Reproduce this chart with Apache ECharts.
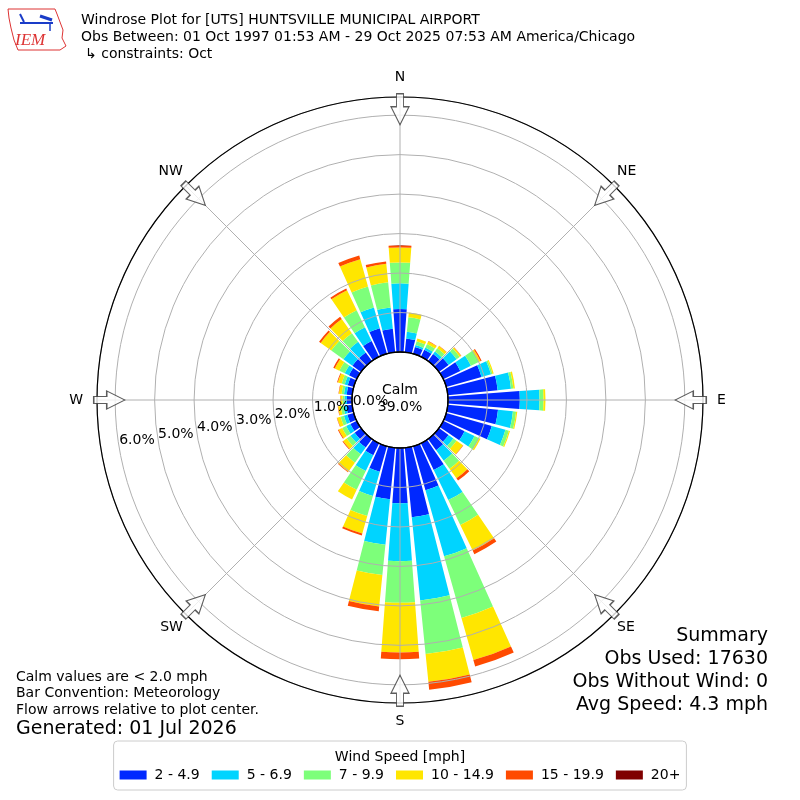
<!DOCTYPE html>
<html>
<head>
<meta charset="utf-8">
<script src="https://cdn.jsdelivr.net/npm/echarts@6/dist/echarts.min.js"></script>
<style>
  html, body { margin: 0; padding: 0; background: #fff; }
  #main { width: 800px; height: 800px; }
</style>
</head>
<body>
<div id="main"></div>
<script>
// direction bins, 10 degrees each, clockwise from north
var directions = [];
for (var d = 0; d < 360; d += 10) directions.push(d);

var speedBins = ['2 - 4.9', '5 - 6.9', '7 - 9.9', '10 - 14.9', '15 - 19.9', '20+'];
var binColors = ['#0028ff', '#00d4ff', '#7dff7a', '#ffe600', '#ff4a00', '#7f0000'];

// percent of obs per direction (0,10,...,350) for each speed bin
var pct2to5 = [1.09, 0.35, 0.18, 0.20, 0.22, 0.30, 0.48, 0.93, 1.27, 1.82, 1.28, 1.20,
               0.60, 0.30, 0.35, 0.75, 1.16, 1.77, 1.40, 1.31, 0.67, 0.34, 0.27, 0.20,
               0.18, 0.17, 0.15, 0.13, 0.14, 0.16, 0.22, 0.27, 0.27, 0.44, 0.67, 0.60];
var pct5to7 = [0.65, 0.17, 0.05, 0.06, 0.08, 0.25, 0.30, 0.25, 0.34, 0.50, 0.38, 0.36,
               0.28, 0.15, 0.33, 0.85, 1.74, 2.12, 1.47, 1.16, 0.64, 0.44, 0.21, 0.13,
               0.12, 0.09, 0.07, 0.06, 0.07, 0.08, 0.12, 0.28, 0.33, 0.39, 0.55, 0.54];
var pct7to10 = [0.53, 0.37, 0.10, 0.10, 0.10, 0.10, 0.22, 0.04, 0.06, 0.10, 0.08, 0.09,
                0.13, 0.10, 0.25, 0.70, 1.62, 1.36, 1.05, 0.77, 0.53, 0.53, 0.26, 0.12,
                0.11, 0.09, 0.07, 0.05, 0.06, 0.08, 0.15, 0.38, 0.27, 0.48, 0.55, 0.64];
var pct10to15 = [0.38, 0.12, 0.07, 0.07, 0.07, 0.04, 0.05, 0.03, 0.04, 0.05, 0.03, 0.03,
                 0.04, 0.20, 0.30, 0.72, 1.11, 0.71, 1.26, 0.80, 0.46, 0.27, 0.28, 0.11,
                 0.10, 0.09, 0.07, 0.05, 0.07, 0.10, 0.13, 0.33, 0.44, 0.56, 0.72, 0.47];
var pct15to20 = [0.05, 0, 0, 0.01, 0.01, 0.01, 0.03, 0, 0, 0, 0, 0,
                 0, 0.01, 0.07, 0.10, 0.17, 0.20, 0.17, 0.12, 0.05, 0, 0.02, 0.02,
                 0.02, 0.01, 0.01, 0.01, 0.01, 0.02, 0.04, 0.05, 0.07, 0.05, 0.10, 0.06];
var pct20plus = [0, 0, 0, 0, 0, 0, 0, 0, 0, 0, 0, 0,
                 0, 0, 0, 0, 0, 0, 0, 0, 0, 0, 0, 0,
                 0, 0, 0, 0, 0, 0, 0, 0, 0, 0, 0, 0];

var compassAngles = [0, 45, 90, 135, 180, 225, 270, 315];
var compassNames = ['N', 'NE', 'E', 'SE', 'S', 'SW', 'W', 'NW'];
var radiusTicks = [0, 1, 2, 3, 4, 5, 6];

var calmPct = 39.0;
var obsUsed = 17630;
var obsNoWind = 0;
var avgSpeed = 4.3;

var rMax = 6.46;
var arrowR = 6.15;
var font = 'DejaVu Sans';

// nudge compass labels so they sit on one circle
var compassPad = {
    N: [0, 0, 9, 0], NE: [0, 0, 5, 0], E: [0, 0, 0, 10], SE: [3, 0, 0, 0],
    S: [7, 0, 0, 0], SW: [3, 0, 0, 0], W: [0, 10, 0, 0], NW: [0, 0, 5, 0]
};
var compassRich = {};
compassNames.forEach(function (n) {
    compassRich[n] = { fontSize: 14, color: '#000', fontFamily: font, padding: compassPad[n] };
});

var myChart = echarts.init(document.getElementById('main'));

var allBins = [pct2to5, pct5to7, pct7to10, pct10to15, pct15to20, pct20plus];
var series = allBins.map(function (arr, i) {
    return {
        name: speedBins[i],
        type: 'bar',
        coordinateSystem: 'polar',
        polarIndex: 0,
        stack: 'wind',
        barCategoryGap: '15%',
        itemStyle: { color: binColors[i] },
        data: arr
    };
});

// flow arrows on the rim
series.push({
    type: 'scatter',
    coordinateSystem: 'polar',
    polarIndex: 1,
    silent: true,
    z: 6,
    symbol: 'path://M5.5,0 L12.5,0 L12.5,13 L18,13 L9,31 L0,13 L5.5,13 Z',
    symbolSize: [18, 31],
    itemStyle: { color: '#fff', borderColor: '#333', borderWidth: 1.2 },
    data: compassAngles.map(function (a) {
        return { value: [arrowR, a], symbolRotate: -a };
    })
});

var polarBox = { center: ['50%', '50%'], radius: [48, 303] };
var hideAll = { axisLine: { show: false }, axisTick: { show: false }, axisLabel: { show: false }, splitLine: { show: false } };

var option = {
    animation: false,
    textStyle: { fontFamily: font },
    polar: [
        polarBox,
        polarBox,
        polarBox,
        { center: ['50%', '50%'], radius: [0, 48] }
    ],
    angleAxis: [
        Object.assign({ polarIndex: 0, type: 'category', data: directions, startAngle: 95, clockwise: true }, hideAll),
        {
            polarIndex: 1, type: 'value', min: 0, max: 360, interval: 45, startAngle: 90, clockwise: true, z: 4,
            axisLine: { show: true, lineStyle: { color: '#000', width: 1.2 } },
            axisTick: { show: false },
            splitLine: { show: true, lineStyle: { color: '#b0b0b0', width: 1 } },
            axisLabel: {
                margin: 4, fontSize: 14, color: '#000', fontFamily: font,
                rich: compassRich,
                formatter: function (v) {
                    var k = compassAngles.indexOf(v);
                    return k >= 0 ? '{' + compassNames[k] + '|' + compassNames[k] + '}' : '';
                }
            }
        },
        Object.assign({ polarIndex: 2, type: 'value', min: 0, max: 360, startAngle: 189.6, clockwise: true }, hideAll),
        {
            polarIndex: 3, type: 'value', min: 0, max: 360, z: 5,
            axisLine: { show: true, lineStyle: { color: '#000', width: 1.3 } },
            axisTick: { show: false }, axisLabel: { show: false }, splitLine: { show: false }
        }
    ],
    radiusAxis: [
        Object.assign({ polarIndex: 0, min: 0, max: rMax }, hideAll),
        {
            polarIndex: 1, min: 0, max: rMax, interval: 1, z: 3,
            axisLine: { show: false }, axisTick: { show: false }, axisLabel: { show: false },
            splitLine: { show: true, lineStyle: { color: '#b0b0b0', width: 1 } }
        },
        {
            polarIndex: 2, min: 0, max: rMax, interval: 1, z: 6,
            axisLine: { show: false }, axisTick: { show: false }, splitLine: { show: false },
            axisLabel: {
                margin: 0, align: 'left', verticalAlign: 'bottom',
                fontSize: 14, color: '#000', fontFamily: font,
                formatter: function (v) {
                    return radiusTicks.indexOf(v) >= 0 ? v.toFixed(1) + '%' : '';
                }
            }
        },
        Object.assign({ polarIndex: 3, min: 0, max: 1 }, hideAll)
    ],
    title: {
        text: 'Wind Speed [mph]',
        left: 'center',
        top: 745,
        textStyle: { fontSize: 14, fontWeight: 'normal', color: '#000', fontFamily: font }
    },
    legend: {
        data: speedBins,
        left: 'center',
        top: 741,
        icon: 'rect',
        itemWidth: 27,
        itemHeight: 9,
        itemGap: 12,
        padding: [27, 6, 8, 6],
        borderColor: '#ccc',
        borderWidth: 1,
        borderRadius: 4,
        selectedMode: false,
        textStyle: { fontSize: 14, color: '#000', fontFamily: font, padding: [0, 0, 0, 3] }
    },
    graphic: [
        // IEM logo (rough)
        {
            type: 'polyline', silent: true,
            shape: { points: [[8, 9], [55, 9], [57, 14], [60, 22], [63, 30], [62, 38], [66, 46], [60, 50], [18, 50], [14, 40], [11, 28], [9, 18], [8, 9]] },
            style: { stroke: '#d33', fill: null, lineWidth: 1 }
        },
        { type: 'line', silent: true, shape: { x1: 20, y1: 23, x2: 53, y2: 23 }, style: { stroke: '#1a3cc8', lineWidth: 2 } },
        { type: 'line', silent: true, shape: { x1: 20, y1: 14, x2: 24, y2: 22 }, style: { stroke: '#1a3cc8', lineWidth: 2 } },
        { type: 'line', silent: true, shape: { x1: 40, y1: 16, x2: 52, y2: 20 }, style: { stroke: '#1a3cc8', lineWidth: 3 } },
        { type: 'line', silent: true, shape: { x1: 50, y1: 23, x2: 50, y2: 31 }, style: { stroke: '#1a3cc8', lineWidth: 1.5 } },
        { type: 'text', silent: true, x: 15, y: 32, style: { text: 'IEM', font: 'italic 17px "Liberation Serif"', fill: '#d33' } },

        // header
        { type: 'text', x: 81, y: 20, style: { text: 'Windrose Plot for [UTS] HUNTSVILLE MUNICIPAL AIRPORT', font: '14px "DejaVu Sans"', fill: '#000', verticalAlign: 'middle' } },
        { type: 'text', x: 81, y: 37, style: { text: 'Obs Between: 01 Oct 1997 01:53 AM - 29 Oct 2025 07:53 AM America/Chicago', font: '14px "DejaVu Sans"', fill: '#000', verticalAlign: 'middle' } },
        { type: 'text', x: 85, y: 54, style: { text: '\u21b3 constraints: Oct', font: '14px "DejaVu Sans"', fill: '#000', verticalAlign: 'middle' } },

        // calm
        { type: 'text', x: 400, y: 390, z: 10, style: { text: 'Calm', font: '14px "DejaVu Sans"', fill: '#000', align: 'center', verticalAlign: 'middle' } },
        { type: 'text', x: 400, y: 407, z: 10, style: { text: calmPct.toFixed(1) + '%', font: '14px "DejaVu Sans"', fill: '#000', align: 'center', verticalAlign: 'middle' } },

        // notes
        { type: 'text', x: 16, y: 677, style: { text: 'Calm values are < 2.0 mph', font: '14px "DejaVu Sans"', fill: '#000', verticalAlign: 'middle' } },
        { type: 'text', x: 16, y: 693, style: { text: 'Bar Convention: Meteorology', font: '14px "DejaVu Sans"', fill: '#000', verticalAlign: 'middle' } },
        { type: 'text', x: 16, y: 710, style: { text: 'Flow arrows relative to plot center.', font: '14px "DejaVu Sans"', fill: '#000', verticalAlign: 'middle' } },
        { type: 'text', x: 16, y: 729, style: { text: 'Generated: 01 Jul 2026', font: '19px "DejaVu Sans"', fill: '#000', verticalAlign: 'middle' } },

        // summary
        { type: 'text', x: 768, y: 636, style: { text: 'Summary', font: '19px "DejaVu Sans"', fill: '#000', align: 'right', verticalAlign: 'middle' } },
        { type: 'text', x: 768, y: 659, style: { text: 'Obs Used: ' + obsUsed, font: '19px "DejaVu Sans"', fill: '#000', align: 'right', verticalAlign: 'middle' } },
        { type: 'text', x: 768, y: 682, style: { text: 'Obs Without Wind: ' + obsNoWind, font: '19px "DejaVu Sans"', fill: '#000', align: 'right', verticalAlign: 'middle' } },
        { type: 'text', x: 768, y: 705, style: { text: 'Avg Speed: ' + avgSpeed.toFixed(1) + ' mph', font: '19px "DejaVu Sans"', fill: '#000', align: 'right', verticalAlign: 'middle' } }
    ],
    series: series
};
myChart.setOption(option);
</script>
</body>
</html>
